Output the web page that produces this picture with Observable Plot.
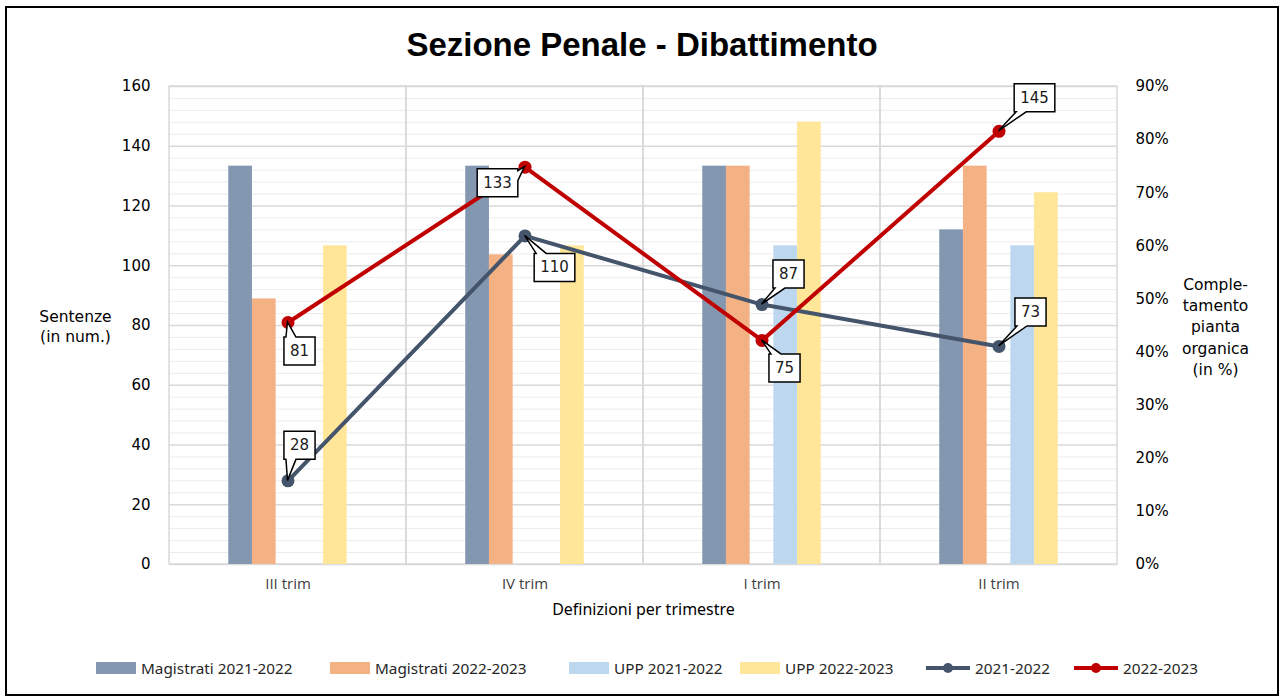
<!DOCTYPE html>
<html><head><meta charset="utf-8">
<script src="https://cdn.jsdelivr.net/npm/d3@7"></script>
<script src="https://cdn.jsdelivr.net/npm/@observablehq/plot@0.6"></script>
<style>
body{margin:0;width:1284px;height:700px;position:relative;background:#fff;overflow:hidden;}
#frame{position:absolute;left:5px;top:6px;width:1270px;height:686px;border:2px solid #000;pointer-events:none;}
#title{position:absolute;left:0;width:1284px;top:26px;line-height:38px;text-align:center;font-family:"Liberation Sans",Arial,sans-serif;font-weight:bold;font-size:33px;color:#000;}
#chart{position:absolute;left:0;top:70px;}
#legend{position:absolute;top:658px;left:0;width:1284px;height:20px;font-family:"Noto Sans",sans-serif;font-size:15.3px;color:#262626;}
#legend .item{position:absolute;top:0;height:20px;display:flex;align-items:center;gap:5px;white-space:nowrap;}
</style></head>
<body>
<div id="title">Sezione Penale - Dibattimento</div>
<div id="chart"></div>
<div id="legend"></div>
<div id="frame"></div>
<script>
// ---------- data ----------
const trimestri = ["III trim", "IV trim", "I trim", "II trim"];
// bars: completamento pianta organica (%)
const magistrati2122 = [75, 75, 75, 63];
const magistrati2223 = [50, 58.3, 75, 75];
const upp2122 = [null, null, 60, 60];
const upp2223 = [60, 60, 83.3, 70];
// lines: sentenze (numero)
const sentenze2122 = [28, 110, 87, 73];
const sentenze2223 = [81, 133, 75, 145];
// axes
const yTicks = [0, 20, 40, 60, 80, 100, 120, 140, 160];
const pctTicks = [0, 10, 20, 30, 40, 50, 60, 70, 80, 90];
const seriesNames = ["Magistrati 2021-2022", "Magistrati 2022-2023", "UPP 2021-2022", "UPP 2022-2023", "2021-2022", "2022-2023"];

// ---------- styling / layout ----------
const colors = {
  "Magistrati 2021-2022": "#8497b0",
  "Magistrati 2022-2023": "#f4b183",
  "UPP 2021-2022": "#bdd7ee",
  "UPP 2022-2023": "#ffe699",
  "2021-2022": "#44546a",
  "2022-2023": "#c00000"
};
const legendLeft = [96, 330, 569, 740, 926, 1074];
const W = 1284, H = 570, ML = 169, MR = 167, MT = 16, MB = 76;
const yMax = 160, pctMax = 90;
const toCount = p => p * yMax / pctMax;
const bw = (W - ML - MR) / trimestri.length;
const slot = bw / 10;
// callout offsets (label box centre relative to point), pixels
const callout2122 = [[12, -35], [30, 32], [27, -30], [32, -34]];
const callout2223 = [[12, 29], [-27, 16], [23, 28], [36, -33]];

const rows = vals => trimestri.map((t, i) => ({trim: t, value: vals[i]})).filter(d => d.value != null);

const barSeries = [
  {name: "Magistrati 2021-2022", vals: magistrati2122, slotIdx: 0},
  {name: "Magistrati 2022-2023", vals: magistrati2223, slotIdx: 1},
  {name: "UPP 2021-2022", vals: upp2122, slotIdx: 3},
  {name: "UPP 2022-2023", vals: upp2223, slotIdx: 4}
];
const lineSeries = [
  {name: "2021-2022", vals: sentenze2122, offs: callout2122},
  {name: "2022-2023", vals: sentenze2223, offs: callout2223}
];

const minor = d3.range(0, yMax + 1, 4).filter(v => v % 20 !== 0);

const plot = Plot.plot({
  width: W, height: H,
  marginLeft: ML, marginRight: MR, marginTop: MT, marginBottom: MB,
  style: {fontFamily: "DejaVu Sans", fontSize: "15px", color: "#000", background: "transparent"},
  x: {type: "band", domain: trimestri, padding: 0, label: null, axis: null},
  y: {domain: [0, yMax], label: null},
  marks: [
    Plot.ruleY(minor, {stroke: "#ececec", strokeWidth: 1}),
    Plot.ruleY(yTicks, {stroke: "#d9d9d9", strokeWidth: 1.5}),
    Plot.barY(trimestri, {x: d => d, y1: 0, y2: yMax, fill: "none", stroke: "#d9d9d9", strokeWidth: 1.5}),
    ...barSeries.map(s => Plot.barY(rows(s.vals), {
      x: "trim", y: d => toCount(d.value), fill: colors[s.name],
      insetLeft: (2.5 + s.slotIdx) * slot, insetRight: bw - (3.5 + s.slotIdx) * slot
    })),
    ...lineSeries.map(s => Plot.line(rows(s.vals), {x: "trim", y: "value", stroke: colors[s.name], strokeWidth: 4})),
    ...lineSeries.map(s => Plot.dot(rows(s.vals), {x: "trim", y: "value", fill: colors[s.name], r: 6.5})),
    Plot.axisY({anchor: "left", ticks: yTicks, tickSize: 0, tickPadding: 19, label: null}),
    Plot.axisY({anchor: "right", ticks: pctTicks.map(toCount), tickFormat: d => Math.round(d * pctMax / yMax) + "%", tickSize: 0, tickPadding: 18, label: null}),
    Plot.text(trimestri, {x: d => d, frameAnchor: "bottom", dy: 24, fontFamily: "Open Sans", fontSize: 15, fill: "#404040"}),
    Plot.text(["Definizioni per trimestre"], {frameAnchor: "bottom", dy: 50, fontFamily: "Noto Sans", fontSize: 16, fill: "#000"}),
    Plot.text(["Sentenze\n(in num.)"], {frameAnchor: "left", dx: -94, textAnchor: "middle", lineHeight: 1.3, fontSize: 15.5, fill: "#000"}),
    Plot.text(["Comple-\ntamento\npianta\norganica\n(in %)"], {frameAnchor: "right", dx: 98, textAnchor: "middle", lineHeight: 1.38, fontSize: 15.5, fill: "#000"})
  ]
});
document.getElementById("chart").appendChild(plot);
const svg = d3.select(plot);

// ---------- callout labels ----------
const xs = plot.scale("x"), ys = plot.scale("y");
const cg = svg.append("g").attr("font-family", "DejaVu Sans").attr("font-size", 15);
const clamp = (v, a, b) => Math.max(a, Math.min(b, v));
lineSeries.forEach(s => {
  s.vals.forEach((v, i) => {
    if (v == null) return;
    const px = xs.apply(trimestri[i]) + xs.bandwidth / 2;
    const py = ys.apply(v);
    const [ox, oy] = s.offs[i];
    const g = cg.append("g");
    const path = g.append("path");
    const t = g.append("text").attr("x", px + ox).attr("y", py + oy)
      .attr("text-anchor", "middle").attr("dominant-baseline", "central").attr("fill", "#1a1a1a").text(v);
    const bb = t.node().getBBox();
    const l = bb.x - 6, r = bb.x + bb.width + 6, tp = bb.y - 5, b = bb.y + bb.height + 5;
    const outH = px < l ? l - px : px > r ? px - r : 0;
    const outV = py < tp ? tp - py : py > b ? py - b : 0;
    let d;
    if (outV >= outH) {
      const a = clamp(px - 2, l + 2, r - 12);
      if (py > b) d = `M${l},${tp}H${r}V${b}H${a + 10}L${px},${py}L${a},${b}H${l}Z`;
      else d = `M${l},${tp}H${a}L${px},${py}L${a + 10},${tp}H${r}V${b}H${l}Z`;
    } else {
      const a = clamp(py - 2, tp + 2, b - 12);
      if (px > r) d = `M${l},${tp}H${r}V${a}L${px},${py}L${r},${a + 10}V${b}H${l}Z`;
      else d = `M${l},${tp}H${r}V${b}H${l}V${a + 10}L${px},${py}L${l},${a}Z`;
    }
    path.attr("d", d).attr("fill", "#fff").attr("stroke", "#000").attr("stroke-width", 1.5).attr("stroke-linejoin", "miter");
  });
});

// ---------- legend ----------
const legend = d3.select("#legend");
seriesNames.forEach((name, i) => {
  const it = legend.append("div").attr("class", "item").style("left", legendLeft[i] + "px");
  const isLine = name.startsWith("20");
  const sw = it.append("svg").attr("width", isLine ? 44 : 40).attr("height", 14);
  if (isLine) {
    sw.append("line").attr("x1", 0).attr("x2", 44).attr("y1", 7).attr("y2", 7).attr("stroke", colors[name]).attr("stroke-width", 4);
    sw.append("circle").attr("cx", 22).attr("cy", 7).attr("r", 5).attr("fill", colors[name]);
  } else {
    sw.append("rect").attr("x", 0).attr("y", 1).attr("width", 40).attr("height", 12).attr("fill", colors[name]);
  }
  it.append("span").text(name);
});
</script>
</body></html>
